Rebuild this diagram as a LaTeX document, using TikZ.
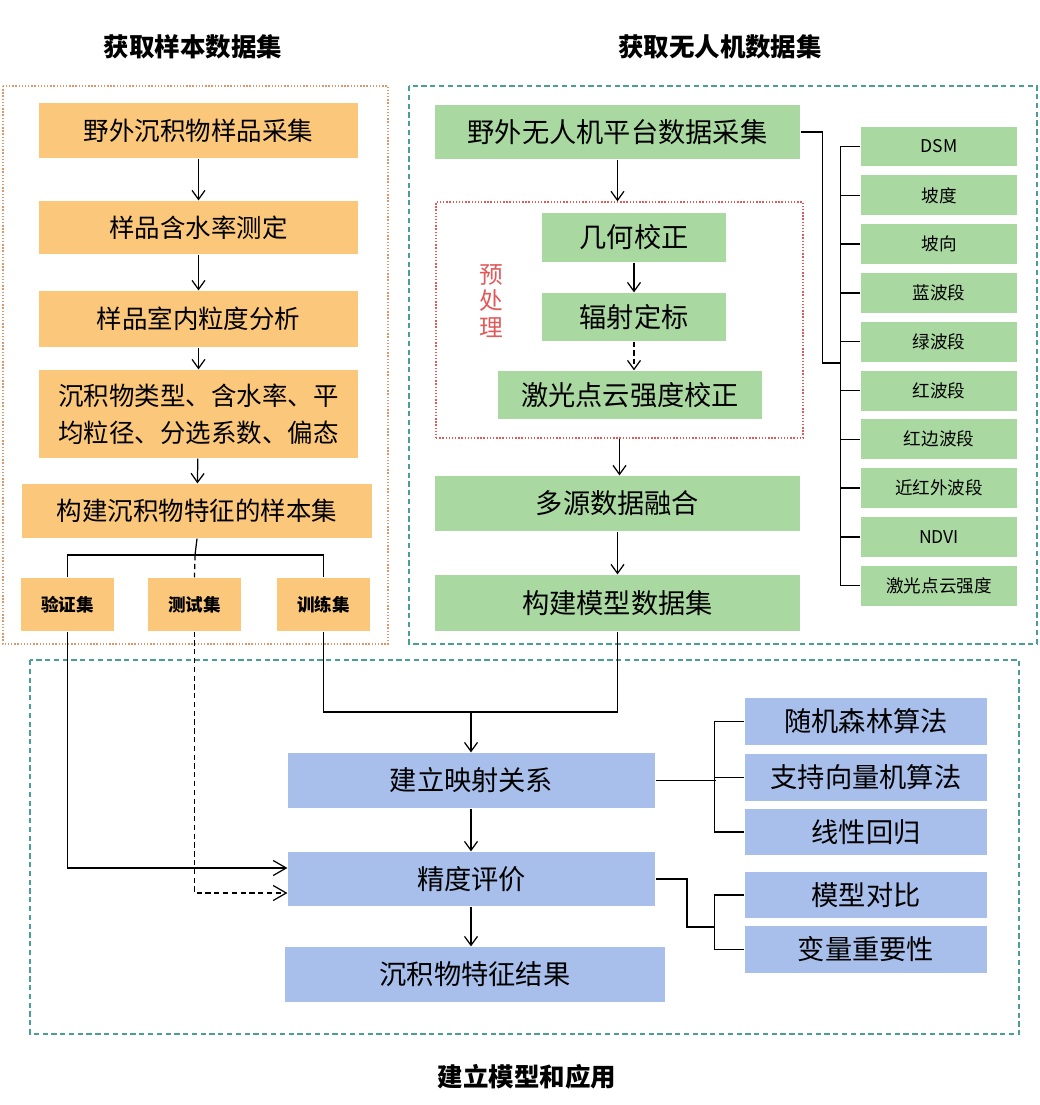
\documentclass[tikz,border=0pt]{standalone}
\usepackage{fontspec}
\setmainfont{Noto Sans CJK SC}
\usetikzlibrary{arrows.meta}
\definecolor{sorange}{HTML}{FBC77A}
\definecolor{ugreen}{HTML}{A9D8A1}
\definecolor{mblue}{HTML}{A7BFEA}
\definecolor{oframe}{HTML}{D9976A}
\definecolor{tframe}{HTML}{4A9E98}
\definecolor{pframe}{HTML}{E05A5A}
\tikzset{
  sbox/.style={fill=sorange, inner sep=0pt, align=center,
    font=\fontsize{14.5}{21}\selectfont},
  ubox/.style={fill=ugreen, inner sep=0pt, align=center,
    font=\fontsize{15.5}{18}\selectfont},
  mbox/.style={fill=mblue, inner sep=0pt, align=center,
    font=\fontsize{15.5}{18}\selectfont},
  setbox/.style={sbox, minimum width=1.86cm, minimum height=1.06cm,
    font=\fontsize{10}{12}\selectfont\bfseries},
  gsmall/.style={fill=ugreen, inner sep=0pt, minimum width=3.12cm,
    minimum height=.8cm, font=\fontsize{10}{12}\selectfont},
  arr/.style={-{Straight Barb[length=1.8mm,width=2.6mm]}},
  title/.style={font=\fontsize{14.5}{17}\selectfont\bfseries}
}
\begin{document}
\begin{tikzpicture}[x=.02cm, y=-.02cm, line width=.7pt]
\useasboundingbox (0,0) rectangle (1039,1105);
\node[title] (t1) at (193,47) {获取样本数据集};
\node[title] (t2) at (720,47) {获取无人机数据集};
\node[title] (t3) at (527,1077) {建立模型和应用};
\draw[oframe, densely dotted, line width=.8pt] (3,86) rectangle (388,644);
\draw[tframe, densely dashed, line width=.7pt] (409,86) rectangle (1037,644);
\draw[tframe, densely dashed, line width=.7pt] (30,660) rectangle (1019,1034);
\node[pframe, draw, densely dotted, line width=.8pt, minimum width=7.34cm,
  minimum height=4.72cm] (pre) at (619.5,320) {};
\node[pframe, font=\fontsize{13.5}{15.3}\selectfont, align=center] (pt)
  at (491,301) {预\\处\\理};

\node[sbox, minimum width=6.38cm, minimum height=1.1cm] (s1) at (198.5,130.5) {野外沉积物样品采集};
\node[sbox, minimum width=6.38cm, minimum height=1.06cm] (s2) at (198.5,227.5) {样品含水率测定};
\node[sbox, minimum width=6.38cm, minimum height=1.12cm] (s3) at (198.5,319) {样品室内粒度分析};
\node[sbox, minimum width=6.38cm, minimum height=1.76cm] (s4) at (198.5,414)
  {沉积物类型、含水率、平\\均粒径、分选系数、偏态};
\node[sbox, minimum width=7cm, minimum height=1.08cm] (s5) at (197,511) {构建沉积物特征的样本集};
\node[setbox] (c1) at (67.5,604.5) {验证集};
\node[setbox] (c2) at (194.5,604.5) {测试集};
\node[setbox] (c3) at (323.5,604.5) {训练集};
\draw[arr] (s1) -- (s2);
\draw[arr] (s2) -- (s3);
\draw[arr] (s3) -- (s4);
\draw[arr] (s4) -- (s5);
\coordinate (sp) at (195,555);
\draw (s5.south) -- (sp);
\draw (c1.north) |- (sp) -| (c3.north);
\draw[densely dashed] (sp) -- (c2.north);

\node[ubox, minimum width=7.3cm, minimum height=1.08cm] (u1) at (617.5,132) {野外无人机平台数据采集};
\node[ubox, minimum width=3.68cm, minimum height=.98cm] (p1) at (634,237.5) {几何校正};
\node[ubox, minimum width=3.68cm, minimum height=.96cm] (p2) at (634,317) {辐射定标};
\node[ubox, minimum width=5.28cm, minimum height=.96cm] (p3) at (630,395) {激光点云强度校正};
\node[ubox, minimum width=7.3cm, minimum height=1.1cm] (u2) at (617.5,503.5) {多源数据融合};
\node[ubox, minimum width=7.3cm, minimum height=1.12cm] (u3) at (617.5,603) {构建模型数据集};
\draw[arr] (u1.south) -- (u1.south |- pre.north);
\draw[arr] (p1.south -| p2.north) -- (p2.north);
\draw[arr, densely dashed] (p2.south) -- (p2.south |- p3.north);
\draw[arr] (pre.south) -- (pre.south |- u2.north);
\draw[arr] (u2) -- (u3);
\foreach \t [count=\i from 0] in {DSM,坡度,坡向,蓝波段,绿波段,红波段,红边波段,近红外波段,NDVI,激光点云强度} {
  \node[gsmall] (g\i) at (939,{146.5+\i*48.8}) {\t};
  \draw ([xshift=-.4cm]g\i.west) -- (g\i.west);
}
\draw ([xshift=-.4cm]g0.west) -- ([xshift=-.4cm]g9.west);
\coordinate (gk) at (841,363);
\draw (u1.east) -- ++(22,0) |- (gk);

\node[mbox, minimum width=7.34cm, minimum height=1.1cm] (m1) at (471.5,780.5) {建立映射关系};
\node[mbox, minimum width=7.34cm, minimum height=1.08cm] (m2) at (471.5,879) {精度评价};
\node[mbox, minimum width=7.6cm, minimum height=1.1cm] (m3) at (475,974.5) {沉积物特征结果};
\node[mbox, minimum width=4.84cm, minimum height=.94cm] (a1) at (866,721.5) {随机森林算法};
\node[mbox, minimum width=4.84cm, minimum height=.94cm] (a2) at (866,777.5) {支持向量机算法};
\node[mbox, minimum width=4.84cm, minimum height=.92cm] (a3) at (866,832) {线性回归};
\node[mbox, minimum width=4.84cm, minimum height=.92cm] (e1) at (866,895) {模型对比};
\node[mbox, minimum width=4.84cm, minimum height=.94cm] (e2) at (866,949.5) {变量重要性};
\coordinate (j) at (471,712);
\draw (c3.south) |- (j) -| (u3.south);
\draw[arr] (j) -- (j |- m1.north);
\draw[arr] (m1.south -| j) -- (j |- m2.north);
\draw[arr] (m2.south -| j) -- (j |- m3.north);
\draw[arr, -{Straight Barb[length=2.6mm,width=3mm]}] (c1.south) |- ([yshift=.22cm]m2.west);
\draw[arr, -{Straight Barb[length=2.6mm,width=3mm]}, densely dashed] (c2.south) |- ([yshift=-.28cm]m2.west);
\draw (m1.east) -- ++(60,0);
\draw ([xshift=-.6cm]a1.west) -- ([xshift=-.6cm]a3.west);
\foreach \n in {a1,a2,a3,e1,e2}
  \draw ([xshift=-.6cm]\n.west) -- (\n.west);
\draw ([xshift=-.6cm]e1.west) -- ([xshift=-.6cm]e2.west);
\coordinate (ek) at (715,927);
\draw (m2.east) -| (687,927) -- (ek);
\end{tikzpicture}
\end{document}
